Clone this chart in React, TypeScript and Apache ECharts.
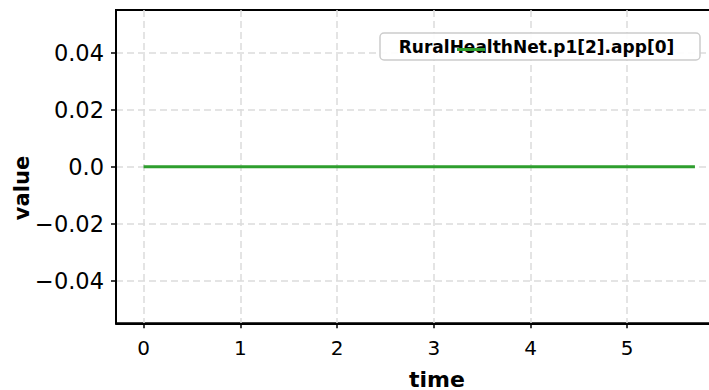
import React, { useEffect, useRef } from "react";
import * as echarts from "echarts";

const timeValues = [0, 1, 2, 3, 4, 5, 5.7];
const seriesValues = [0, 0, 0, 0, 0, 0, 0];
const xTicks = [0, 1, 2, 3, 4, 5];
const yTicks = [-0.04, -0.02, 0, 0.02, 0.04];
const seriesName = "RuralHealthNet.p1[2].app[0]";
const xTitle = "time";
const yTitle = "value";

const FONT = '"DejaVu Sans", Verdana, sans-serif';

export default function App() {
  const ref = useRef<HTMLDivElement>(null);
  useEffect(() => {
    if (!ref.current) return;
    const chart = echarts.init(ref.current, undefined, { renderer: "svg" });
    const data = timeValues.map((t, i) => [t, seriesValues[i]]);
    chart.setOption({
      animation: false,
      backgroundColor: "#ffffff",
      grid: {
        left: 116,
        top: 10,
        right: 17.5,
        bottom: 66.7,
        show: true,
        borderColor: "#000",
        borderWidth: 2,
        backgroundColor: "transparent",
      },
      xAxis: {
        type: "value",
        min: -0.285,
        max: 5.985,
        axisLine: { show: true, onZero: false, lineStyle: { color: "#000", width: 2 } },
        axisTick: { show: true, customValues: xTicks, length: 5, lineStyle: { color: "#000", width: 1.5 } },
        axisLabel: {
          customValues: xTicks,
          fontSize: 20,
          color: "#000",
          fontFamily: FONT,
          margin: 15,
        },
        splitLine: { show: true, lineStyle: { type: [7, 4], color: "#dcdcdc", width: 1.5 } },
      },
      yAxis: {
        type: "value",
        min: -0.055,
        max: 0.055,
        axisLine: { show: true, onZero: false, lineStyle: { color: "#000", width: 2 } },
        axisTick: { show: true, customValues: yTicks, length: 5, lineStyle: { color: "#000", width: 1.5 } },
        axisLabel: {
          customValues: yTicks,
          fontSize: 22.5,
          color: "#000",
          fontFamily: FONT,
          margin: 12,
          formatter: (v: number) => {
            if (Math.abs(v) < 1e-9) return "0.0";
            return v.toFixed(2).replace("-", "\u2212");
          },
        },
        splitLine: { show: true, lineStyle: { type: [7, 4], color: "#dcdcdc", width: 1.5 } },
      },
      series: [
        {
          name: seriesName,
          type: "line",
          data,
          showSymbol: false,
          symbol: "none",
          lineStyle: { color: "#2e9e2e", width: 3 },
          z: 5,
        },
      ],
      graphic: [
        {
          type: "text",
          x: 22,
          y: 188,
          rotation: Math.PI / 2,
          z: 100,
          style: {
            text: yTitle,
            font: `bold 21px ${FONT}`,
            fill: "#000",
            align: "center",
            verticalAlign: "middle",
          },
        },
        {
          type: "text",
          x: 437,
          y: 379,
          z: 100,
          style: {
            text: xTitle,
            font: `bold 22px ${FONT}`,
            fill: "#000",
            align: "center",
            verticalAlign: "middle",
          },
        },
        {
          type: "rect",
          z: 100,
          shape: { x: 380, y: 33, width: 320, height: 27, r: 4 },
          style: { fill: "rgba(255,255,255,0.9)", stroke: "#cccccc", lineWidth: 1.5 },
        },
        {
          type: "text",
          x: 536.5,
          y: 46.5,
          z: 101,
          style: {
            text: seriesName,
            font: `bold 17px ${FONT}`,
            fill: "#000",
            align: "center",
            verticalAlign: "middle",
          },
        },
        {
          type: "line",
          z: 102,
          shape: { x1: 457, y1: 49.5, x2: 485, y2: 49.5 },
          style: { stroke: "#2e9e2e", lineWidth: 3 },
        },
      ],
    });
    return () => chart.dispose();
  }, []);
  return (
    <div style={{ position: "fixed", left: 0, top: 0, width: 709, height: 390, overflow: "hidden", background: "#fff" }}>
      <div ref={ref} style={{ width: 740, height: 390 }} />
    </div>
  );
}
